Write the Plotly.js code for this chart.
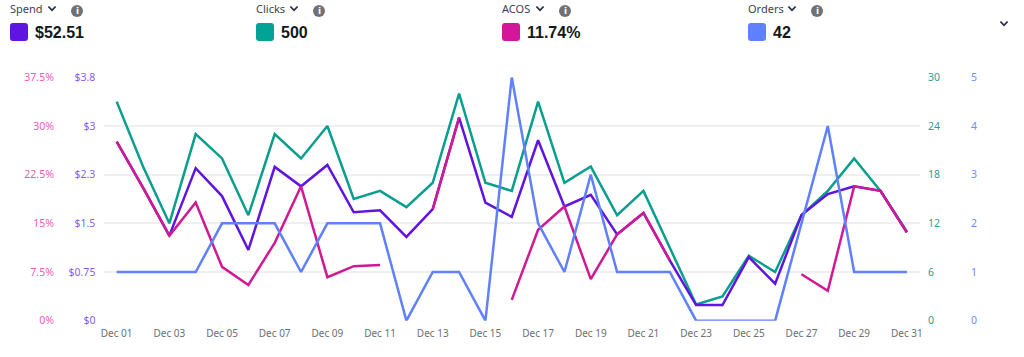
<!DOCTYPE html>
<html><head><meta charset="utf-8">
<script src="https://cdn.plot.ly/plotly-3.0.1.min.js"></script>
<style>html,body{margin:0;padding:0;background:#fff;overflow:hidden}#c{width:1024px;height:357px}</style>
</head><body><div id="c"></div>
<script>
const days = ["Dec 01","Dec 02","Dec 03","Dec 04","Dec 05","Dec 06","Dec 07","Dec 08","Dec 09","Dec 10","Dec 11","Dec 12","Dec 13","Dec 14","Dec 15","Dec 16","Dec 17","Dec 18","Dec 19","Dec 20","Dec 21","Dec 22","Dec 23","Dec 24","Dec 25","Dec 26","Dec 27","Dec 28","Dec 29","Dec 30","Dec 31"];
const xTicks = ["Dec 01","Dec 03","Dec 05","Dec 07","Dec 09","Dec 11","Dec 13","Dec 15","Dec 17","Dec 19","Dec 21","Dec 23","Dec 25","Dec 27","Dec 29","Dec 31"];
const spend = [2.76,2.05,1.31,2.35,1.92,1.09,2.37,2.07,2.40,1.67,1.70,1.29,1.72,3.13,1.82,1.60,2.78,1.76,1.94,1.33,1.66,0.93,0.24,0.24,0.98,0.57,1.63,1.95,2.07,2.00,1.36];
const clicks = [27,19,12,23,20,13,23,20,24,15,16,14,17,28,17,16,27,17,19,13,16,9,2,3,8,6,13,16,20,16,11];
const acos = [27.6,20.5,13.1,18.2,8.3,5.5,12.0,20.7,6.7,8.4,8.6,null,17.2,31.3,null,3.2,14.0,17.6,6.4,13.3,16.6,9.3,null,null,null,null,7.15,4.6,20.7,20.0,13.6];
const orders = [1,1,1,1,2,2,2,1,2,2,2,0,1,1,0,5,2,1,3,1,1,1,0,0,0,0,2,4,1,1,1];
const spendTickVals = [0,0.75,1.5,2.25,3,3.75];
const spendTickText = ["$0","$0.75","$1.5","$2.3","$3","$3.8"];
const clicksTicks = [0,6,12,18,24,30];
const acosTickVals = [0,7.5,15,22.5,30,37.5];
const acosTickText = ["0%","7.5%","15%","22.5%","30%","37.5%"];
const ordersTicks = [0,1,2,3,4,5];
const metricNames = ["Spend","Clicks","ACOS","Orders"];
const metricTotals = ["$52.51","500","11.74%","42"];
const metricColors = ["#5f14e0","#00a396","#d4179a","#5f80ff"];
const lineColors = ["#5f14e0","#0a9e8e","#ce1a94","#5f80ff"];
const tickColors = ["#8a5cf2","#2b9f93","#ea5cb9","#6e8cff"];

const W=1024,H=357,FONT='"Noto Sans", "Open Sans", sans-serif';
const px=x=>x/W, py=y=>1-y/H;
const plotTop=77.3,plotBot=320.7,plotL=103.5,plotR=920;

function chevron(cx,cy){
  return {type:'path',xref:'paper',yref:'paper',
    path:`M${px(cx-3.6)},${py(cy-2)} L${px(cx)},${py(cy+1.8)} L${px(cx+3.6)},${py(cy-2)}`,
    line:{color:'#232f3e',width:1.8},layer:'above'};
}
function swatch(x,y,s,r,c){
  const a=px(x),b=px(x+s),t=py(y),u=py(y+s),rx=px(r),ry=r/H;
  return {type:'path',xref:'paper',yref:'paper',fillcolor:c,line:{width:0},
    path:`M${a+rx},${t} L${b-rx},${t} Q${b},${t} ${b},${t-ry} L${b},${u+ry} Q${b},${u} ${b-rx},${u} L${a+rx},${u} Q${a},${u} ${a},${u+ry} L${a},${t-ry} Q${a},${t} ${a+rx},${t} Z`};
}
const headerX=[10,256,502,748], chevX=[52,294,540,792], infoX=[77,319,565,817];
const shapes=[],annotations=[];
metricNames.forEach((n,i)=>{
  annotations.push({xref:'paper',yref:'paper',x:px(headerX[i]-2),y:py(8),text:n,showarrow:false,xanchor:'left',yanchor:'middle',
    font:{family:FONT,size:11,color:'#3b4450'}});
  annotations.push({xref:'paper',yref:'paper',x:px(headerX[i]+23),y:py(32.5),text:'<b>'+metricTotals[i]+'</b>',showarrow:false,xanchor:'left',yanchor:'middle',
    font:{family:'"Liberation Sans", Arial, sans-serif',size:16,color:'#111820'}});
  annotations.push({xref:'paper',yref:'paper',x:px(infoX[i]),y:py(11),text:'<b>i</b>',showarrow:false,xanchor:'center',yanchor:'middle',
    font:{family:'"DejaVu Sans", sans-serif',size:9,color:'#ffffff'}});
  shapes.push(chevron(chevX[i],8.5));
  shapes.push(swatch(headerX[i],23,18,3,metricColors[i]));
  shapes.push({type:'circle',xref:'paper',yref:'paper',x0:px(infoX[i]-6),x1:px(infoX[i]+6),y0:py(17),y1:py(5),fillcolor:'#6f7275',line:{width:0}});
});
shapes.push(chevron(1004,23.5));

function tr(y,yaxis,color){
  return {x:days,y:y,yaxis:yaxis,type:'scatter',mode:'lines',cliponaxis:false,connectgaps:false,
    line:{color:color,width:2.5,shape:'linear'},hoverinfo:'skip'};
}
const dom=[py(plotBot),py(plotTop)];
function yax(range,vals,text,side,color,extra){
  return Object.assign({domain:dom,range:range,tickmode:'array',tickvals:vals,ticktext:text,side:side,
    showgrid:false,zeroline:false,showline:false,fixedrange:true,
    tickfont:{family:FONT,size:10.5,color:color},ticks:'outside',tickcolor:'rgba(0,0,0,0)',ticklen:5,tickwidth:1},extra);
}
const layout={
  width:W,height:H,margin:{l:0,r:0,t:0,b:0,pad:0},paper_bgcolor:'#fff',plot_bgcolor:'#fff',showlegend:false,
  xaxis:{type:'category',categoryorder:'array',categoryarray:days,domain:[px(plotL),px(plotR)],range:[-0.5,30.5],
    tickmode:'array',tickvals:xTicks,ticktext:xTicks,showgrid:false,zeroline:false,showline:false,fixedrange:true,
    tickangle:0,ticks:'outside',ticklen:3,tickcolor:'rgba(0,0,0,0)',tickfont:{family:FONT,size:10,color:'#6b6f74'}},
  yaxis:yax([0,30],clicksTicks,clicksTicks.map(String),'right',tickColors[1],{anchor:'x',showgrid:true,gridcolor:'#efefef',gridwidth:2}),
  yaxis2:yax([0,3.75],spendTickVals,spendTickText,'left',tickColors[0],{anchor:'x',overlaying:'y'}),
  yaxis3:yax([0,37.5],acosTickVals,acosTickText,'left',tickColors[2],{anchor:'free',overlaying:'y',position:px(61)}),
  yaxis4:yax([0,5],ordersTicks,ordersTicks.map(String),'right',tickColors[3],{anchor:'free',overlaying:'y',position:px(963)}),
  shapes:shapes,annotations:annotations
};
const traces=[tr(clicks,'y',lineColors[1]),tr(spend,'y2',lineColors[0]),tr(acos,'y3',lineColors[2]),tr(orders,'y4',lineColors[3])];
Plotly.newPlot('c',traces,layout,{displayModeBar:false,staticPlot:true});
</script></body></html>
